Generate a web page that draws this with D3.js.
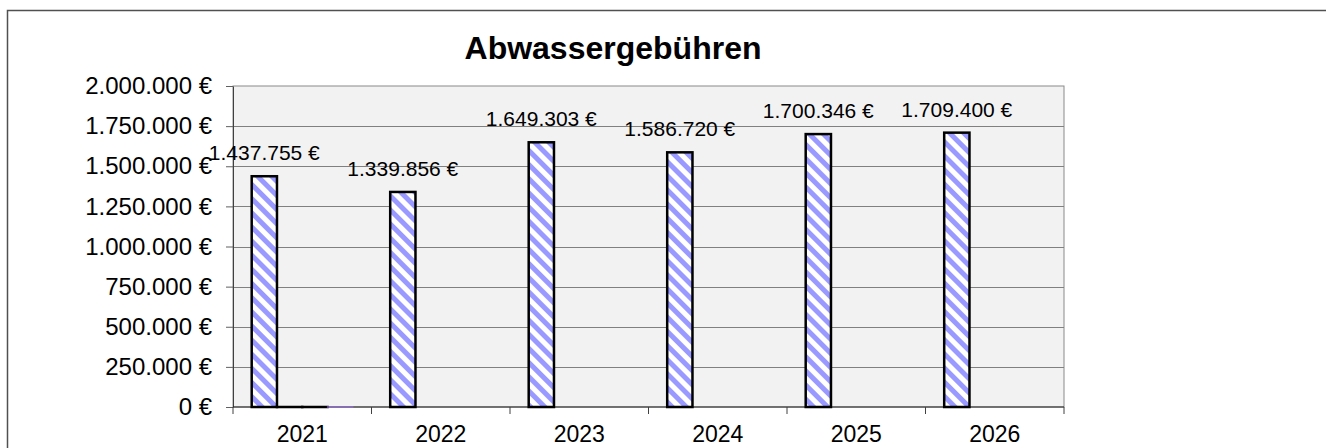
<!DOCTYPE html>
<html>
<head>
<meta charset="utf-8">
<script src="https://cdn.jsdelivr.net/npm/d3@7"></script>
<style>
  body { margin: 0; background: #fff; }
  svg { display: block; font-family: "Liberation Sans", Arial, sans-serif; }
</style>
</head>
<body>
<svg id="chart"></svg>
<script>
// data
const years = ["2021", "2022", "2023", "2024", "2025", "2026"];
const seriesNames = ["Gebühren", "Reihe 2", "Reihe 3", "Reihe 4"];
const gebuehren = [1437755, 1339856, 1649303, 1586720, 1700346, 1709400];
const reihe2 = [0, null, null, null, null, null];
const reihe3 = [0, null, null, null, null, null];
const reihe4 = [0, null, null, null, null, null];
const yTicks = [0, 250000, 500000, 750000, 1000000, 1250000, 1500000, 1750000, 2000000];
const title = "Abwassergebühren";

const width = 1326;
const height = 448;
const margin = { top: 86, right: 262, bottom: 41, left: 233 };

const de = d3.formatLocale({ decimal: ",", thousands: ".", grouping: [3], currency: ["", " €"] });
const euro = (v) => de.format(",.0f")(v) + " €";

const svg = d3.select("#chart").attr("width", width).attr("height", height);

// outer frame (runs past the window)
svg.append("rect")
  .attr("x", 7.5).attr("y", 10.5)
  .attr("width", width + 20).attr("height", height + 20)
  .attr("fill", "none").attr("stroke", "#505050").attr("stroke-width", 1.5);

// hatch for the bars, "\" direction
const defs = svg.append("defs");
const pat = defs.append("pattern")
  .attr("id", "hatch")
  .attr("patternUnits", "userSpaceOnUse")
  .attr("width", 10).attr("height", 10)
  .attr("patternTransform", "rotate(45)");
pat.append("rect").attr("width", 10).attr("height", 10).attr("fill", "#fff");
pat.append("rect").attr("width", 10).attr("height", 5).attr("fill", "#9999ff");

const x = d3.scaleBand()
  .domain(years)
  .range([margin.left, width - margin.right]);

const xs = d3.scaleBand()
  .domain(seriesNames)
  .range([0, x.bandwidth()])
  .paddingOuter(0.74);

const y = d3.scaleLinear()
  .domain([0, 2000000])
  .range([height - margin.bottom, margin.top]);

const [x0, x1] = x.range();
const [yb, yt] = y.range();

// plot background
svg.append("rect")
  .attr("x", x0).attr("y", yt)
  .attr("width", x1 - x0).attr("height", yb - yt)
  .attr("fill", "#f2f2f2")
  .attr("stroke", "#8a8a8a");

// gridlines
svg.append("g")
  .selectAll("line")
  .data(yTicks.filter((d) => d > 0 && d < 2000000))
  .join("line")
  .attr("x1", x0).attr("x2", x1)
  .attr("y1", (d) => Math.round(y(d)) + 0.5)
  .attr("y2", (d) => Math.round(y(d)) + 0.5)
  .attr("stroke", "#808080");

// y axis
svg.append("g")
  .attr("transform", `translate(${x0},0)`)
  .call(d3.axisLeft(y).tickValues(yTicks).tickFormat(euro).tickSize(7).tickPadding(14).tickSizeOuter(0))
  .call((g) => g.select(".domain").attr("stroke", "#404040"))
  .call((g) => g.selectAll(".tick line").attr("stroke", "#606060"))
  .call((g) => g.selectAll("text").attr("font-size", 24).attr("fill", "#000").attr("font-family", null));

// x axis: ticks on the category borders
const gx = svg.append("g");
gx.append("line")
  .attr("x1", x0).attr("x2", x1)
  .attr("y1", yb).attr("y2", yb)
  .attr("stroke", "#202020");
gx.selectAll("line.tick")
  .data([...years.map((d) => x(d)), x1])
  .join("line")
  .attr("class", "tick")
  .attr("x1", (d) => d).attr("x2", (d) => d)
  .attr("y1", yb).attr("y2", yb + 7)
  .attr("stroke", "#404040");
gx.selectAll("text")
  .data(years)
  .join("text")
  .attr("x", (d) => x(d) + x.bandwidth() / 2)
  .attr("y", yb + 35)
  .attr("text-anchor", "middle")
  .attr("font-size", 23)
  .text((d) => d);

// bars
const seriesData = [gebuehren, reihe2, reihe3, reihe4];
const fills = ["url(#hatch)", "#fff", "#fff", "#9370db"];
const strokes = ["#000", "#000", "#000", "#9370db"];
const strokeW = [2.5, 2.5, 2.5, 1.2];

seriesData.forEach((vals, si) => {
  svg.append("g")
    .selectAll("rect")
    .data(years.map((yr, i) => ({ yr, v: vals[i] })).filter((d) => d.v != null))
    .join("rect")
    .attr("x", (d) => x(d.yr) + xs(seriesNames[si]))
    .attr("y", (d) => y(d.v))
    .attr("width", xs.bandwidth())
    .attr("height", (d) => Math.max(0.01, y(0) - y(d.v))) // zero-height rects are not drawn
    .attr("fill", fills[si])
    .attr("stroke", strokes[si])
    .attr("stroke-width", strokeW[si]);
});

// value labels
svg.append("g")
  .selectAll("text")
  .data(years.map((yr, i) => ({ yr, v: gebuehren[i] })))
  .join("text")
  .attr("x", (d) => x(d.yr) + xs(seriesNames[0]) + xs.bandwidth() / 2)
  .attr("y", (d) => y(d.v) - 16)
  .attr("text-anchor", "middle")
  .attr("font-size", 21)
  .text((d) => euro(d.v));

// title
svg.append("text")
  .attr("x", 613)
  .attr("y", 59)
  .attr("text-anchor", "middle")
  .attr("font-size", 32)
  .attr("font-weight", "bold")
  .text(title);
</script>
</body>
</html>
